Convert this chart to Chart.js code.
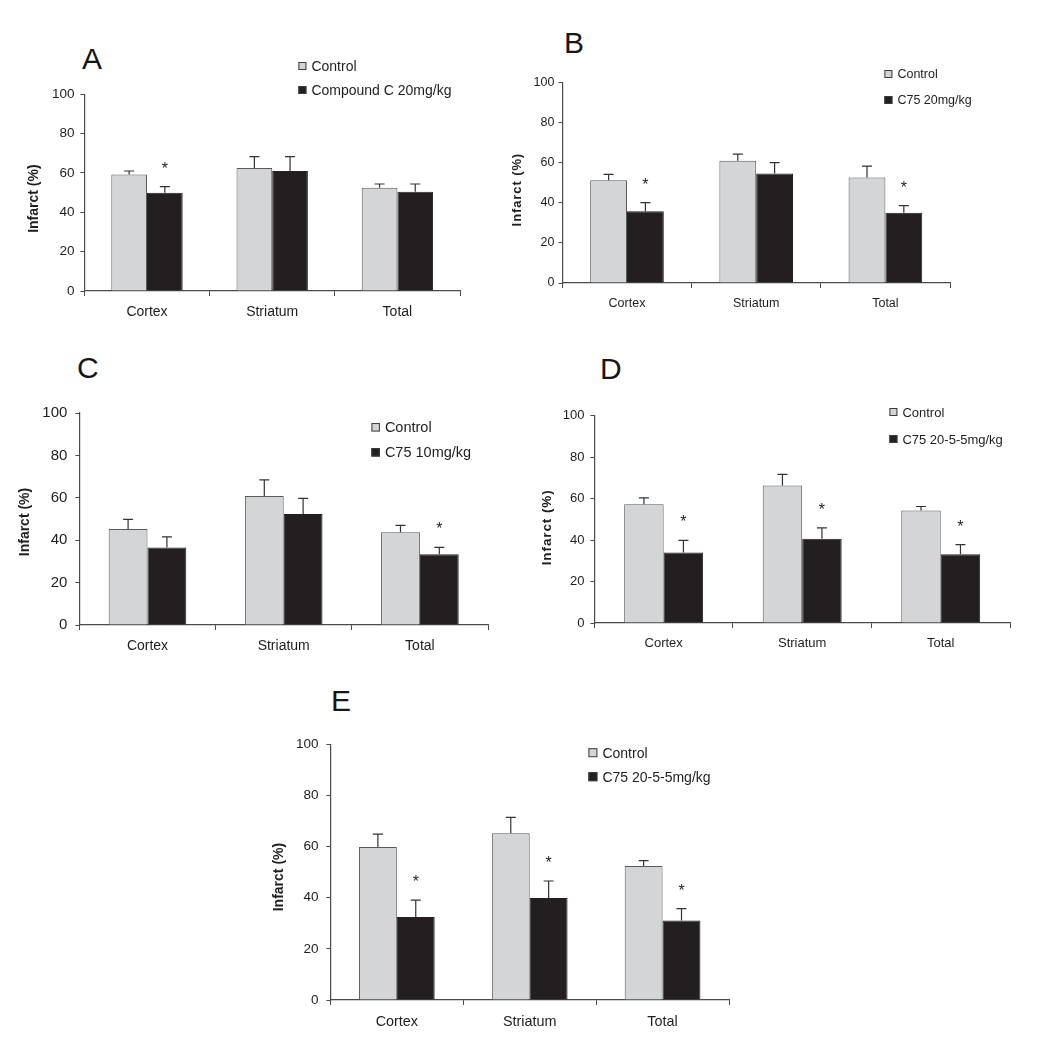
<!DOCTYPE html>
<html lang="en">
<head>
<meta charset="UTF-8">
<title>Infarct (%) – panels A–E</title>
<script src="https://cdn.jsdelivr.net/npm/chart.js@4/dist/chart.umd.min.js"></script>
<style>
  body { margin:0; background:#fff; width:1050px; height:1040px; position:relative; overflow:hidden;
         font-family:"Liberation Sans", Arial, sans-serif; }
  canvas { position:absolute; }
  .letter { position:absolute; font-size:30px; line-height:1; color:#161616; }
</style>
</head>
<body>

<div class="letter" style="left:82px;top:44px">A</div>
<div class="letter" style="left:564px;top:28px">B</div>
<div class="letter" style="left:77px;top:353px">C</div>
<div class="letter" style="left:600px;top:354px">D</div>
<div class="letter" style="left:331px;top:686px">E</div>

<script>
// ── data ────────────────────────────────────────────────
const categories = ['Cortex', 'Striatum', 'Total'];
const yTitle = 'Infarct (%)';
const controlLabel = 'Control';

// A – Compound C 20mg/kg
const treatLabelA = 'Compound C 20mg/kg';
const controlA = [59.2, 62.5, 52.5];
const controlErrA = [1.8, 5.8, 1.9];
const treatA = [50.0, 61.0, 50.5];
const treatErrA = [3.1, 7.3, 3.9];
const starsA = [true, false, false];

// B – C75 20mg/kg
const treatLabelB = 'C75 20mg/kg';
const controlB = [51.2, 60.9, 52.6];
const controlErrB = [2.9, 3.3, 5.6];
const treatB = [35.8, 54.6, 35.0];
const treatErrB = [4.2, 5.4, 3.6];
const starsB = [true, false, true];

// C – C75 10mg/kg
const treatLabelC = 'C75 10mg/kg';
const controlC = [45.3, 60.8, 43.8];
const controlErrC = [4.5, 7.7, 3.2];
const treatC = [36.6, 52.4, 33.4];
const treatErrC = [5.0, 7.3, 3.2];
const starsC = [false, false, true];

// D – C75 20-5-5mg/kg
const treatLabelD = 'C75 20-5-5mg/kg';
const controlD = [57.3, 66.3, 54.3];
const controlErrD = [3.1, 5.4, 1.9];
const treatD = [34.0, 40.6, 33.2];
const treatErrD = [5.9, 5.3, 4.6];
const starsD = [true, true, true];

// E – C75 20-5-5mg/kg
const treatLabelE = 'C75 20-5-5mg/kg';
const controlE = [59.8, 65.2, 52.4];
const controlErrE = [5.0, 6.2, 2.1];
const treatE = [32.4, 39.9, 31.1];
const treatErrE = [6.6, 6.6, 4.6];
const starsE = [true, true, true];

// ── styling ─────────────────────────────────────────────
const FONT = '"Liberation Sans", Arial, sans-serif';
const LIGHT = '#d4d5d7';
const DARK = '#231f20';
const AXIS = '#4a4a4a';
const TEXT = '#1e1e1e';

// error bars (upper only) + significance stars
const errorBars = {
  id: 'errorBars',
  afterDatasetsDraw(chart) {
    const ctx = chart.ctx;
    const ys = chart.scales.y;
    chart.data.datasets.forEach((ds, i) => {
      chart.getDatasetMeta(i).data.forEach((bar, j) => {
        const top = ys.getPixelForValue(ds.data[j] + ds.err[j]);
        ctx.save();
        ctx.strokeStyle = '#333';
        ctx.lineWidth = 1.2;
        ctx.beginPath();
        ctx.moveTo(bar.x, bar.y);
        ctx.lineTo(bar.x, top);
        ctx.moveTo(bar.x - 5, top);
        ctx.lineTo(bar.x + 5, top);
        ctx.stroke();
        if (ds.stars && ds.stars[j]) {
          ctx.fillStyle = TEXT;
          ctx.font = '16px ' + FONT;
          ctx.textAlign = 'center';
          ctx.textBaseline = 'alphabetic';
          ctx.fillText('*', bar.x, top - 22 + 9);
        }
        ctx.restore();
      });
    });
  }
};

// legend with small square boxes, placed freely
const boxLegend = {
  id: 'boxLegend',
  afterDraw(chart, args, opts) {
    const ctx = chart.ctx;
    chart.data.datasets.forEach((ds, i) => {
      const yy = opts.y + i * opts.gap;
      ctx.save();
      ctx.fillStyle = ds.backgroundColor;
      ctx.fillRect(opts.x, yy - opts.sq / 2, opts.sq, opts.sq);
      ctx.strokeStyle = '#3c3c3c';
      ctx.lineWidth = 1;
      ctx.strokeRect(opts.x + 0.5, yy - opts.sq / 2 + 0.5, opts.sq - 1, opts.sq - 1);
      ctx.fillStyle = TEXT;
      ctx.font = opts.size + 'px ' + FONT;
      ctx.textBaseline = 'middle';
      ctx.fillText(ds.label, opts.x + opts.sq + 5, yy + 1);
      ctx.restore();
    });
  }
};

function makePanel(p, control, controlErr, treat, treatErr, stars, treatLabel) {
  const left = p.titleX - 10.4;
  const top = Math.min(p.top - 10, p.legend.y - 14);
  const right = Math.max(p.right + 10, Math.min(p.legend.x + 175, 1048));
  const w = right - left;
  const h = p.bottom + 40 - top;

  const cv = document.createElement('canvas');
  cv.width = Math.round(w);
  cv.height = Math.round(h);
  cv.style.left = left + 'px';
  cv.style.top = top + 'px';
  document.body.appendChild(cv);

  new Chart(cv, {
    type: 'bar',
    data: {
      labels: categories,
      datasets: [
        { label: controlLabel, data: control, err: controlErr,
          backgroundColor: LIGHT, borderColor: '#5a5a5a', borderWidth: 1 },
        { label: treatLabel, data: treat, err: treatErr, stars: stars,
          backgroundColor: DARK, borderColor: DARK, borderWidth: 1 }
      ]
    },
    options: {
      responsive: false,
      animation: false,
      layout: { padding: { top: p.top - top, right: right - p.right, left: 0, bottom: 0 } },
      datasets: { bar: { categoryPercentage: 0.57, barPercentage: 1 } },
      plugins: {
        legend: { display: false },
        tooltip: { enabled: false },
        boxLegend: { x: p.legend.x - left, y: p.legend.y - top, gap: p.legend.gap,
                     sq: p.legend.sq, size: p.legend.size }
      },
      scales: {
        x: {
          afterFit: s => { s.height = 40; },
          grid: { offset: true, drawOnChartArea: false, tickLength: 5, color: AXIS, lineWidth: 1 },
          border: { color: AXIS, width: 1.2 },
          ticks: { color: TEXT, padding: 8, font: { family: FONT, size: p.catSize } }
        },
        y: {
          min: 0, max: 100,
          afterFit: s => {
            s.width = p.axisX - left;
            // nudge the axis title down a little and open up its letters like the figure
            const base = Object.getPrototypeOf(s).drawTitle;
            s.drawTitle = function () {
              const c = this.ctx;
              c.save();
              c.translate(0, p.titleShift);
              c.letterSpacing = p.titleSpacing + 'px';
              base.call(this);
              c.restore();
            };
          },
          grid: { drawOnChartArea: false, tickLength: 4, color: AXIS, lineWidth: 1 },
          border: { color: AXIS, width: 1.2 },
          ticks: { stepSize: 20, color: TEXT, padding: p.tickGap - 4,
                   font: { family: FONT, size: p.tickSize } },
          title: { display: true, text: yTitle, color: TEXT, padding: { top: 2, bottom: 0 },
                   font: { family: FONT, size: p.titleSize, weight: 'bold' } }
        }
      }
    },
    plugins: [errorBars, boxLegend]
  });
}

makePanel({ axisX: 84, top: 94.3, bottom: 291, right: 460, titleX: 34, tickSize: 13.5, catSize: 14,
            titleSize: 14, titleShift: 6, titleSpacing: 0, tickGap: 10,
            legend: { x: 298, y: 66, gap: 24, sq: 8, size: 14 } },
          controlA, controlErrA, treatA, treatErrA, starsA, treatLabelA);

makePanel({ axisX: 562, top: 82.3, bottom: 283.3, right: 950, titleX: 518, tickSize: 12.5, catSize: 12.5,
            titleSize: 13, titleShift: 7, titleSpacing: 0.9, tickGap: 8,
            legend: { x: 884, y: 74, gap: 26, sq: 8, size: 12.5 } },
          controlB, controlErrB, treatB, treatErrB, starsB, treatLabelB);

makePanel({ axisX: 79, top: 405.7, bottom: 625, right: 488, titleX: 25, tickSize: 15, catSize: 14,
            titleSize: 14, titleShift: 3, titleSpacing: 0, tickGap: 12,
            legend: { x: 371, y: 427, gap: 25, sq: 8.5, size: 14.5 } },
          controlC, controlErrC, treatC, treatErrC, starsC, treatLabelC);

makePanel({ axisX: 594, top: 415.7, bottom: 622.7, right: 1010, titleX: 547, tickSize: 13, catSize: 13,
            titleSize: 13.5, titleShift: 8, titleSpacing: 0.9, tickGap: 10,
            legend: { x: 889, y: 412, gap: 27, sq: 8, size: 13 } },
          controlD, controlErrD, treatD, treatErrD, starsD, treatLabelD);

makePanel({ axisX: 330, top: 738.3, bottom: 1000.7, right: 729, titleX: 279, tickSize: 13.5, catSize: 14.4,
            titleSize: 14, titleShift: 5, titleSpacing: 0, tickGap: 12,
            legend: { x: 588, y: 753, gap: 24, sq: 9, size: 14 } },
          controlE, controlErrE, treatE, treatErrE, starsE, treatLabelE);
</script>
</body>
</html>
